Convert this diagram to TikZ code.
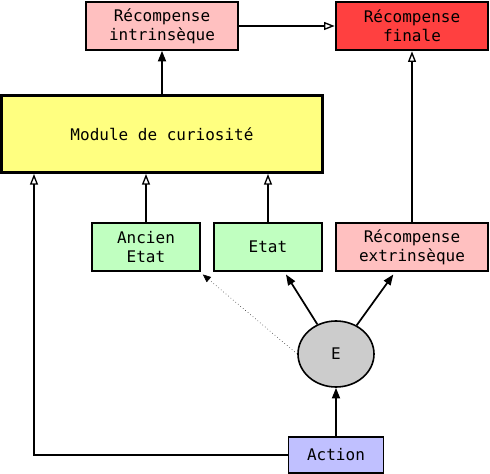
\documentclass[tikz,border=0pt]{standalone}
\usepackage{fontspec}
\setmonofont{DejaVu Sans Mono}
\usetikzlibrary{arrows.meta,shapes.geometric}
\definecolor{rose}{HTML}{FFC0C0}
\definecolor{rouge}{HTML}{FF4040}
\definecolor{jaune}{HTML}{FFFF80}
\definecolor{vert}{HTML}{C0FFC0}
\definecolor{gris}{HTML}{CCCCCC}
\definecolor{bleu}{HTML}{C0C0FF}
\tikzset{
  boite/.style={draw,line width=1.2pt,align=center,inner sep=0pt,font=\ttfamily\fontsize{12}{14}\selectfont},
  fleche/.style={line width=1.3pt,-{Triangle[length=8pt,width=6pt]}},
  ouverte/.style={line width=1.3pt,-{Triangle[open,length=8pt,width=6pt,line width=1pt]}}
}
\begin{document}
\begin{tikzpicture}[x=0.75pt,y=-0.75pt]
\useasboundingbox (0,0) rectangle (490,474);
\node[boite,fill=rose,minimum width=114pt,minimum height=36pt] (intr) at (162,26) {Récompense\\intrinsèque};
\node[boite,fill=rouge,line width=2pt,minimum width=114pt,minimum height=36pt] (fin) at (412,26) {Récompense\\finale};
\node[boite,fill=jaune,line width=2pt,minimum width=240.5pt,minimum height=58pt] (module) at (162,134) {Module de curiosité};
\node[boite,fill=vert,minimum width=81pt,minimum height=36pt] (ancien) at (146,247) {Ancien\\Etat};
\node[boite,fill=vert,minimum width=81pt,minimum height=36pt] (etat) at (268,247) {Etat};
\node[boite,fill=rose,minimum width=114pt,minimum height=36pt] (extr) at (412,247) {Récompense\\extrinsèque};
\node[boite,fill=gris,ellipse,minimum width=57pt,minimum height=49.5pt] (e) at (336,354) {E};
\node[boite,fill=bleu,minimum width=71pt,minimum height=27pt] (action) at (336,455) {Action};
\coordinate (coin) at (34,455);
% fleches
\draw[ouverte] (intr) -- (fin);
\draw[fleche] (module.north -| intr) -- (intr);
\draw[ouverte] (ancien) -- (ancien |- module.south);
\draw[ouverte] (etat) -- (etat |- module.south);
\draw[ouverte] (extr) -- (fin);
\draw[ouverte] (action.west) -- (coin) -- (coin |- module.south);
\draw[fleche] (action) -- (e);
\draw[fleche] (e) -- ([xshift=13.5pt,yshift=-2pt]etat.south);
\draw[fleche] (e) -- ([xshift=-14pt,yshift=-2pt]extr.south);
\draw[dotted,-{Triangle[length=6pt,width=5pt]}] (e.west) -- ([xshift=1.5pt,yshift=-2pt]ancien.south east);
\end{tikzpicture}
\end{document}
